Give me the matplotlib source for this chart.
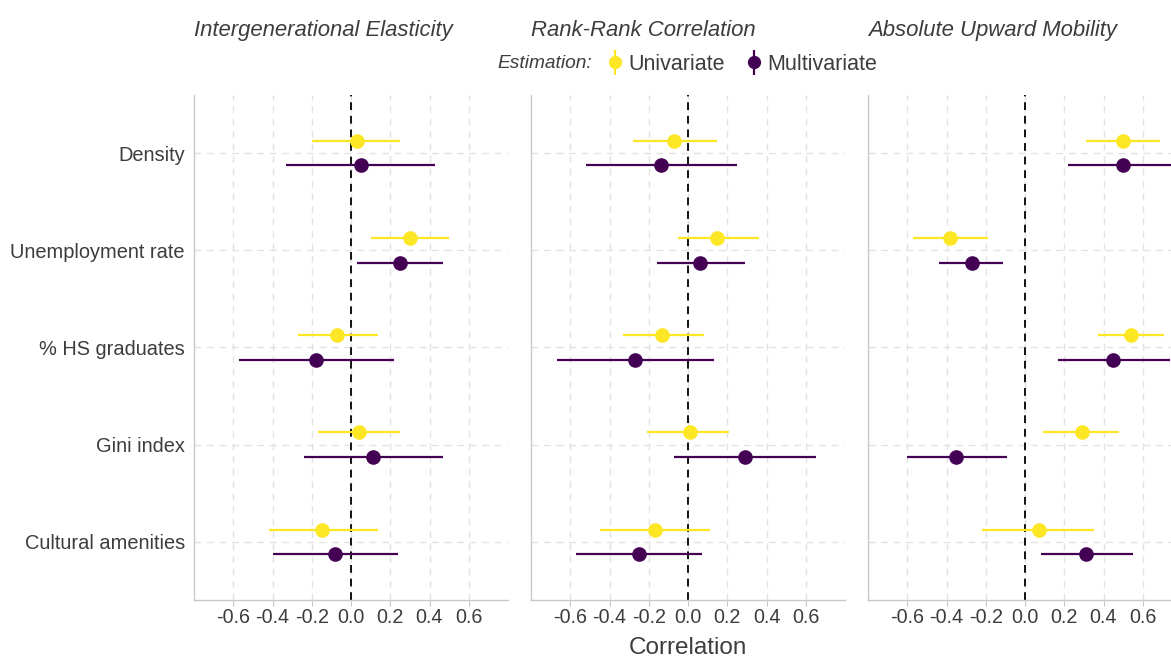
import matplotlib
matplotlib.use("Agg")
import matplotlib.pyplot as plt
from matplotlib.lines import Line2D
from matplotlib.legend_handler import HandlerTuple
import numpy as np

plt.rcParams['font.family'] = ['Liberation Sans', 'DejaVu Sans']

categories = ["Density", "Unemployment rate", "% HS graduates", "Gini index", "Cultural amenities"]
panels = ["Intergenerational Elasticity", "Rank-Rank Correlation", "Absolute Upward Mobility"]
series = ["Univariate", "Multivariate"]
colors = {"Univariate": "#FDE725", "Multivariate": "#440154"}
xticks = [-0.6, -0.4, -0.2, 0.0, 0.2, 0.4, 0.6]

# Intergenerational Elasticity
ige_uni_est = [0.03, 0.30, -0.07, 0.04, -0.15]
ige_uni_lo = [-0.20, 0.10, -0.27, -0.17, -0.42]
ige_uni_hi = [0.25, 0.50, 0.14, 0.25, 0.14]
ige_multi_est = [0.05, 0.25, -0.18, 0.11, -0.08]
ige_multi_lo = [-0.33, 0.03, -0.57, -0.24, -0.40]
ige_multi_hi = [0.43, 0.47, 0.22, 0.47, 0.24]

# Rank-Rank Correlation
rrc_uni_est = [-0.07, 0.15, -0.13, 0.01, -0.17]
rrc_uni_lo = [-0.28, -0.05, -0.33, -0.21, -0.45]
rrc_uni_hi = [0.15, 0.36, 0.08, 0.21, 0.11]
rrc_multi_est = [-0.14, 0.06, -0.27, 0.29, -0.25]
rrc_multi_lo = [-0.52, -0.16, -0.67, -0.07, -0.57]
rrc_multi_hi = [0.25, 0.29, 0.13, 0.65, 0.07]

# Absolute Upward Mobility
aum_uni_est = [0.50, -0.38, 0.54, 0.29, 0.07]
aum_uni_lo = [0.31, -0.57, 0.37, 0.09, -0.22]
aum_uni_hi = [0.69, -0.19, 0.71, 0.48, 0.35]
aum_multi_est = [0.50, -0.27, 0.45, -0.35, 0.31]
aum_multi_lo = [0.22, -0.44, 0.17, -0.60, 0.08]
aum_multi_hi = [0.78, -0.11, 0.74, -0.09, 0.55]

data = [
    {"Univariate": (ige_uni_est, ige_uni_lo, ige_uni_hi), "Multivariate": (ige_multi_est, ige_multi_lo, ige_multi_hi)},
    {"Univariate": (rrc_uni_est, rrc_uni_lo, rrc_uni_hi), "Multivariate": (rrc_multi_est, rrc_multi_lo, rrc_multi_hi)},
    {"Univariate": (aum_uni_est, aum_uni_lo, aum_uni_hi), "Multivariate": (aum_multi_est, aum_multi_lo, aum_multi_hi)},
]

W, H = 1171, 657
fig = plt.figure(figsize=(W / 100, H / 100), dpi=100)

n = len(categories)
ypos = np.arange(n, 0, -1)  # Density on top
offsets = {"Univariate": 0.125, "Multivariate": -0.125}

grid_col = "#e3e3e3"
axis_col = "#c8c8c8"
text_col = "#3d3d3d"

lefts = [194, 531, 868]
for i, (left, title, d) in enumerate(zip(lefts, panels, data)):
    ax = fig.add_axes([left / W, (H - 600) / H, 314 / W, 505 / H])
    ax.set_xlim(-0.8, 0.8)
    ax.set_ylim(0.4, n + 0.6)
    for s in ["top", "right"]:
        ax.spines[s].set_visible(False)
    for s in ["left", "bottom"]:
        ax.spines[s].set_color(axis_col)
        ax.spines[s].set_linewidth(1.0)
    ax.set_xticks(xticks)
    ax.set_xticklabels([f"{t:.1f}" for t in xticks])
    ax.set_yticks(ypos)
    if i == 0:
        ax.set_yticklabels(categories)
    else:
        ax.set_yticklabels([])
    ax.tick_params(axis="x", length=4, color=axis_col, labelsize=14.2, labelcolor=text_col, pad=2)
    ax.tick_params(axis="y", length=0, labelsize=14.4, labelcolor=text_col, pad=6.5)
    ax.grid(True, color=grid_col, linestyle=(0, (5, 4)), linewidth=1.0)
    ax.set_axisbelow(True)
    ax.axvline(0, color="#111111", linestyle=(0, (4, 3)), linewidth=1.4, zorder=2)
    for s in series:
        est, lo, hi = d[s]
        est = np.array(est); lo = np.array(lo); hi = np.array(hi)
        yy = ypos + offsets[s]
        ax.hlines(yy, lo, hi, color=colors[s], linewidth=1.6, zorder=3)
        ax.plot(est, yy, "o", color=colors[s], markersize=9.5, zorder=4, linestyle="None")
    ax.set_title(title, fontsize=15.9, style="italic", color=text_col, pad=42.5, loc="left")

fig.text(688 / W, 1 - 648 / H, "Correlation", ha="center", va="center", fontsize=17.5, color=text_col)

fig.text(592 / W, 1 - 64 / H, "Estimation:", ha="right", va="center", fontsize=13.8, style="italic", color=text_col)
handles = []
for s in series:
    h = (Line2D([], [], marker="|", markersize=18, markeredgewidth=1.6, color=colors[s], linestyle="None"),
         Line2D([], [], marker="o", markersize=8.5, color=colors[s], linestyle="None"))
    handles.append(h)
fig.legend(handles, series, loc="center left", bbox_to_anchor=(606 / W, 1 - 64 / H), ncol=2, frameon=False,
           handler_map={tuple: HandlerTuple(ndivide=1)}, fontsize=15.5, handlelength=0.8, handletextpad=0.22,
           columnspacing=0.95, labelcolor=text_col, borderaxespad=0, borderpad=0)

fig.savefig("out.png", dpi=100)
